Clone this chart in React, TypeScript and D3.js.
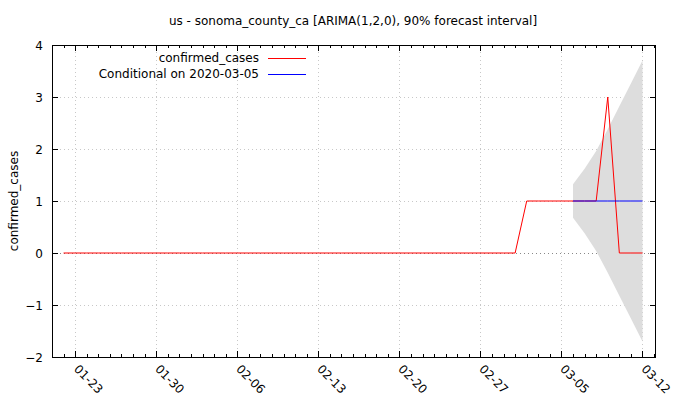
import React, { useEffect, useRef } from 'react';
import * as d3 from 'd3';

// observed daily confirmed cases, 2020-01-22 .. 2020-03-12
const firstDay = '2020-01-22';
const confirmedCases = [
  0, 0, 0, 0, 0, 0, 0, 0, 0, 0,
  0, 0, 0, 0, 0, 0, 0, 0, 0, 0,
  0, 0, 0, 0, 0, 0, 0, 0, 0, 0,
  0, 0, 0, 0, 0, 0, 0, 0, 0, 0,
  1, 1, 1, 1, 1, 1, 1, 3, 0, 0,
  0,
];

// forecast conditional on 2020-03-05 (2020-03-06 .. 2020-03-12)
const forecastDays = ['2020-03-06', '2020-03-07', '2020-03-08', '2020-03-09', '2020-03-10', '2020-03-11', '2020-03-12'];
const forecastMean = [1, 1, 1, 1, 1, 1, 1];
const forecastUpper = [1.32, 1.62, 1.96, 2.38, 2.82, 3.26, 3.7];
const forecastLower = [0.68, 0.38, 0.04, -0.38, -0.82, -1.26, -1.7];

const xTickDays = ['2020-01-23', '2020-01-30', '2020-02-06', '2020-02-13', '2020-02-20', '2020-02-27', '2020-03-05', '2020-03-12'];
const yTicks = [-2, -1, 0, 1, 2, 3, 4];

const title = 'us - sonoma_county_ca [ARIMA(1,2,0), 90% forecast interval]';
const yLabel = 'confirmed_cases';
const legendLabels = ['confirmed_cases', 'Conditional on 2020-03-05'];

const FONT = '"DejaVu Sans", sans-serif';

const Chart = () => {
  const svgRef = useRef<SVGSVGElement>(null);

  useEffect(() => {
    if (!svgRef.current) return;
    const svg = d3.select(svgRef.current);
    svg.selectAll('*').remove();

    const width = 680;
    const height = 400;
    const margin = { top: 45, right: 24, bottom: 43, left: 52 };
    const parse = d3.utcParse('%Y-%m-%d');
    const start = parse(firstDay)!;

    const observed = confirmedCases.map((v, i) => ({ date: d3.utcDay.offset(start, i), value: v }));
    const forecast = forecastDays.map((d, i) => ({
      date: parse(d)!,
      mean: forecastMean[i],
      lo: forecastLower[i],
      hi: forecastUpper[i],
    }));

    const x = d3.scaleUtc()
      .domain([d3.utcDay.offset(start, -1), d3.utcHour.offset(parse('2020-03-13')!, 4)])
      .range([margin.left, width - margin.right]);
    const y = d3.scaleLinear().domain([-2, 4]).range([height - margin.bottom, margin.top]);

    const x0 = margin.left, x1 = width - margin.right;
    const y0 = height - margin.bottom, y1 = margin.top;

    svg.attr('width', width).attr('height', height);

    // grid
    const grid = svg.append('g').attr('stroke-dasharray', '1,3').attr('stroke-width', 1);
    xTickDays.forEach(d => {
      const px = Math.round(x(parse(d)!)) + 0.5;
      grid.append('line').attr('x1', px).attr('x2', px).attr('y1', y0).attr('y2', y1).attr('stroke', '#c8c8c8');
    });
    yTicks.forEach(t => {
      const py = Math.round(y(t)) + 0.5;
      grid.append('line').attr('x1', x0).attr('x2', x1).attr('y1', py).attr('y2', py)
        .attr('stroke', t === 0 ? '#888' : '#c8c8c8');
    });

    // forecast interval
    svg.append('path')
      .datum(forecast)
      .attr('fill', '#dddddd')
      .attr('d', d3.area<any>().x(d => x(d.date)).y0(d => y(d.lo)).y1(d => y(d.hi)));

    // observed line
    svg.append('path')
      .datum(observed)
      .attr('fill', 'none')
      .attr('stroke', '#ff0000')
      .attr('stroke-width', 1)
      .attr('d', d3.line<any>().x(d => x(d.date)).y(d => y(d.value)));

    // conditional forecast line
    svg.append('path')
      .datum(forecast)
      .attr('fill', 'none')
      .attr('stroke', '#0000ff')
      .attr('stroke-width', 1)
      .attr('d', d3.line<any>().x(d => x(d.date)).y(d => y(d.mean)));

    // frame + ticks
    const axes = svg.append('g').attr('stroke', '#000').attr('stroke-width', 1);
    axes.append('rect')
      .attr('x', x0 + 0.5).attr('y', y1 + 0.5)
      .attr('width', x1 - x0 - 1).attr('height', y0 - y1)
      .attr('fill', 'none');

    const minorDays = d3.utcDay.range(d3.utcDay.offset(start, -1), parse('2020-03-14')!)
      .filter(d => x(d) > x0 && x(d) < x1);
    minorDays.forEach(d => {
      const px = Math.round(x(d)) + 0.5;
      axes.append('line').attr('x1', px).attr('x2', px).attr('y1', y0).attr('y2', y0 - 3);
      axes.append('line').attr('x1', px).attr('x2', px).attr('y1', y1).attr('y2', y1 + 3);
    });
    xTickDays.forEach(d => {
      const px = Math.round(x(parse(d)!)) + 0.5;
      axes.append('line').attr('x1', px).attr('x2', px).attr('y1', y0).attr('y2', y0 - 6);
      axes.append('line').attr('x1', px).attr('x2', px).attr('y1', y1).attr('y2', y1 + 6);
    });
    yTicks.forEach(t => {
      const py = Math.round(y(t)) + 0.5;
      axes.append('line').attr('x1', x0).attr('x2', x0 + 6).attr('y1', py).attr('y2', py);
      axes.append('line').attr('x1', x1).attr('x2', x1 - 6).attr('y1', py).attr('y2', py);
    });

    const text = svg.append('g').attr('font-family', FONT).attr('font-size', 12).attr('fill', '#000');

    yTicks.forEach(t => {
      text.append('text')
        .attr('x', x0 - 9).attr('y', y(t) + 4.5)
        .attr('text-anchor', 'end')
        .text(d3.format('d')(t).replace('-', '-'));
    });

    const fmt = d3.utcFormat('%m-%d');
    xTickDays.forEach(d => {
      const px = x(parse(d)!);
      text.append('text')
        .attr('transform', `translate(${px + 1},${y0 + 10}) rotate(45)`)
        .attr('x', 0).attr('y', 4)
        .text(fmt(parse(d)!));
    });

    text.append('text')
      .attr('x', 353).attr('y', 25)
      .attr('text-anchor', 'middle')
      .text(title);

    text.append('text')
      .attr('transform', `translate(18,${(y0 + y1) / 2}) rotate(-90)`)
      .attr('text-anchor', 'middle')
      .text(yLabel);

    // legend
    const legendColors = ['#ff0000', '#0000ff'];
    legendLabels.forEach((label, i) => {
      const ly = 58 + i * 16;
      text.append('text')
        .attr('x', 259).attr('y', ly + 4)
        .attr('text-anchor', 'end')
        .text(label);
      svg.append('line')
        .attr('x1', 268).attr('x2', 306)
        .attr('y1', ly + 0.5).attr('y2', ly + 0.5)
        .attr('stroke', legendColors[i]).attr('stroke-width', 1);
    });
  }, []);

  return <svg ref={svgRef} style={{ position: 'absolute', left: 0, top: 0, background: '#fff' }} />;
};

export default function App() {
  return (
    <div>
      <Chart />
    </div>
  );
}
